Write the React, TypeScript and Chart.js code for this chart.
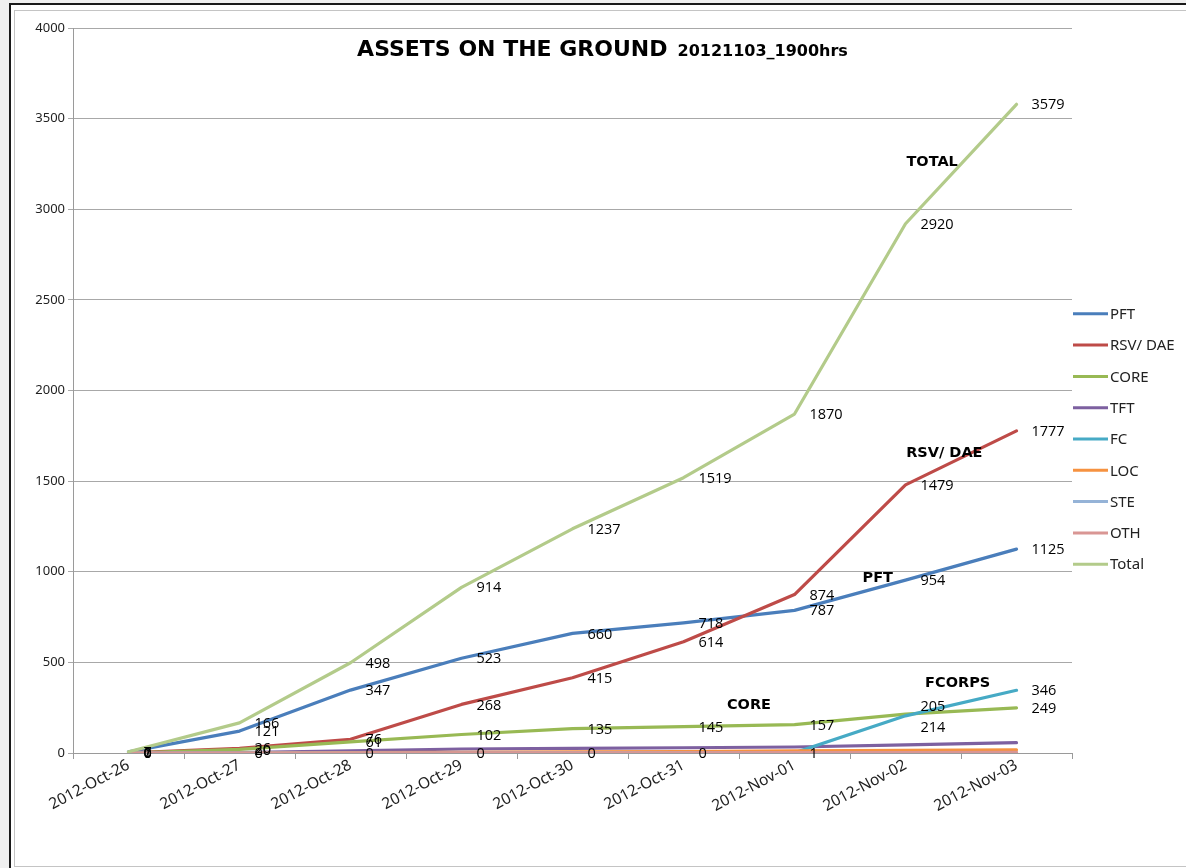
import React, { useEffect, useRef } from 'react';
import { Chart, registerables } from 'chart.js';

Chart.register(...registerables);

// ---- data ----
const categories = [
  '2012-Oct-26', '2012-Oct-27', '2012-Oct-28', '2012-Oct-29', '2012-Oct-30',
  '2012-Oct-31', '2012-Nov-01', '2012-Nov-02', '2012-Nov-03',
];
const pft = [6, 121, 347, 523, 660, 718, 787, 954, 1125];
const rsvDae = [1, 26, 76, 268, 415, 614, 874, 1479, 1777];
const core = [0, 20, 61, 102, 135, 145, 157, 214, 249];
const tft = [0, 2, 12, 22, 26, 29, 33, 45, 57];
const fc = [0, 0, 0, 0, 0, 0, 1, 205, 346];
const loc = [0, 0, 2, 4, 6, 8, 12, 15, 18];
const ste = [0, 0, 0, 0, 1, 1, 1, 2, 2];
const oth = [0, 0, 0, 1, 1, 1, 2, 2, 3];
const total = [7, 166, 498, 914, 1237, 1519, 1870, 2920, 3579];

const seriesNames = ['PFT', 'RSV/ DAE', 'CORE', 'TFT', 'FC', 'LOC', 'STE', 'OTH', 'Total'];
const seriesValues = [pft, rsvDae, core, tft, fc, loc, ste, oth, total];
const seriesColors = ['#4A7EBB', '#BE4B48', '#98B954', '#7D60A0', '#46AAC5', '#F69240', '#95B3D7', '#D99694', '#B3CB8A'];
const labelledSeries = ['PFT', 'RSV/ DAE', 'CORE', 'FC', 'Total'];

const yMin = 0;
const yMax = 4000;
const yStep = 500;

const titleMain = 'ASSETS ON THE GROUND';
const titleSub = '20121103_1900hrs';

// annotation texts, anchored in data units (category index, value)
const annotationTexts = ['TOTAL', 'RSV/ DAE', 'PFT', 'CORE', 'FCORPS'];
const annotationCat = [7.24, 7.35, 6.75, 5.59, 7.47];
const annotationVal = [3261, 1655, 966, 265, 386];

// label nudges for the two overlapping labels at 2012-Nov-02 (series, index, dy px)
const nudgeSeries = ['FC', 'CORE'];
const nudgeIndex = [7, 7];
const nudgeDy = [-10, 13];

const FONT_LABEL = '"Open Sans", "DejaVu Sans", sans-serif';
const FONT_TICK = '"Noto Sans", "DejaVu Sans", sans-serif';
const FONT_TITLE = '"DejaVu Sans", sans-serif';

const dataLabelPlugin = {
  id: 'dataLabels',
  afterDatasetsDraw(chart: any) {
    const ctx = chart.ctx;
    ctx.save();
    ctx.font = `14.5px ${FONT_LABEL}`;
    ctx.fillStyle = '#000';
    ctx.textAlign = 'left';
    ctx.textBaseline = 'middle';
    chart.data.datasets.forEach((ds: any, i: number) => {
      if (!labelledSeries.includes(ds.label)) return;
      const meta = chart.getDatasetMeta(i);
      meta.data.forEach((pt: any, j: number) => {
        let dy = 1;
        nudgeSeries.forEach((s, k) => {
          if (s === ds.label && nudgeIndex[k] === j) dy += nudgeDy[k];
        });
        ctx.fillText(String(ds.data[j]), pt.x + 15, pt.y + dy);
      });
    });
    ctx.restore();
  },
};

const annotationPlugin = {
  id: 'annotations',
  afterDraw(chart: any) {
    const ctx = chart.ctx;
    const xs = chart.scales.x;
    const ys = chart.scales.y;
    ctx.save();
    ctx.font = `bold 14.5px ${FONT_TITLE}`;
    ctx.fillStyle = '#000';
    ctx.textAlign = 'center';
    ctx.textBaseline = 'middle';
    annotationTexts.forEach((t, i) => {
      ctx.fillText(t, xs.getPixelForValue(annotationCat[i]), ys.getPixelForValue(annotationVal[i]));
    });
    // title
    ctx.textAlign = 'left';
    ctx.textBaseline = 'alphabetic';
    ctx.font = `bold 22px ${FONT_TITLE}`;
    const w1 = ctx.measureText(titleMain).width;
    ctx.font = `bold 16px ${FONT_TITLE}`;
    const w2 = ctx.measureText(titleSub).width;
    const gap = 10;
    const cx = (chart.chartArea.left + chart.chartArea.right) / 2 + 30;
    const x0 = cx - (w1 + gap + w2) / 2;
    const base = chart.chartArea.top + 28;
    ctx.font = `bold 22px ${FONT_TITLE}`;
    ctx.fillText(titleMain, x0, base);
    ctx.font = `bold 16px ${FONT_TITLE}`;
    ctx.fillText(titleSub, x0 + w1 + gap, base);
    ctx.restore();
  },
};

const legendPlugin = {
  id: 'sideLegend',
  afterDraw(chart: any) {
    const ctx = chart.ctx;
    const left = chart.chartArea.right + 1;
    const spacing = 31.3;
    const n = chart.data.datasets.length;
    const centerY = (chart.chartArea.top + chart.chartArea.bottom) / 2 + 48.5;
    const top = centerY - ((n - 1) * spacing) / 2;
    ctx.save();
    ctx.font = `15px ${FONT_TICK}`;
    ctx.textAlign = 'left';
    ctx.textBaseline = 'middle';
    chart.data.datasets.forEach((ds: any, i: number) => {
      const y = top + i * spacing;
      ctx.strokeStyle = ds.borderColor;
      ctx.lineWidth = 3;
      ctx.lineCap = 'butt';
      ctx.beginPath();
      ctx.moveTo(left, y);
      ctx.lineTo(left + 35, y);
      ctx.stroke();
      ctx.fillStyle = '#222';
      ctx.fillText(ds.label, left + 37, y + 1);
    });
    ctx.restore();
  },
};

export default function App() {
  const ref = useRef<HTMLCanvasElement | null>(null);

  useEffect(() => {
    if (!ref.current) return;
    const n = seriesNames.length;
    const chart = new Chart(ref.current, {
      type: 'line',
      data: {
        labels: categories,
        datasets: seriesNames.map((name, i) => ({
          label: name,
          data: seriesValues[i],
          borderColor: seriesColors[i],
          backgroundColor: seriesColors[i],
          borderWidth: 3.2,
          pointRadius: 0,
          pointHoverRadius: 0,
          tension: 0,
          fill: false,
          borderJoinStyle: 'round' as const,
          borderCapStyle: 'round' as const,
          order: n - 1 - i,
        })),
      },
      options: {
        responsive: false,
        animation: false,
        events: [],
        layout: { padding: { top: 28, left: 0, right: 114, bottom: 0 } },
        plugins: {
          legend: { display: false },
          title: { display: false },
          tooltip: { enabled: false },
        },
        scales: {
          x: {
            offset: true,
            grid: {
              display: true,
              offset: true,
              drawOnChartArea: false,
              drawTicks: true,
              tickLength: 6,
              color: '#9a9a9a',
            },
            border: { display: true, color: '#9a9a9a', width: 1 },
            ticks: {
              autoSkip: false,
              minRotation: 28,
              maxRotation: 28,
              padding: -3,
              color: '#222',
              font: { family: FONT_TICK, size: 15.5 },
            },
            afterFit: (s: any) => { s.height = 115; },
          },
          y: {
            min: yMin,
            max: yMax,
            ticks: {
              stepSize: yStep,
              padding: 3,
              color: '#222',
              font: { family: FONT_TICK, size: 13 },
              callback: (v: any) => String(v),
            },
            grid: {
              color: '#a8a8a8',
              tickLength: 5,
              lineWidth: 1,
            },
            border: { display: true, color: '#9a9a9a', width: 1 },
            afterFit: (s: any) => { s.width = 73; },
          },
        },
      },
      plugins: [dataLabelPlugin, annotationPlugin, legendPlugin],
    });
    return () => chart.destroy();
  }, []);

  return (
    <div style={{ position: 'fixed', left: 0, top: 0, width: 1186, height: 868, background: '#f0f0f0', overflow: 'hidden' }}>
      <div style={{ position: 'absolute', left: 9, top: 3, width: 1200, height: 870, background: '#fff', borderTop: '2px solid #1a1a1a', borderLeft: '2px solid #1a1a1a' }} />
      <div style={{ position: 'absolute', left: 14, top: 10, width: 1200, height: 855, border: '1px solid #c4c4c4', borderRight: 'none' }} />
      <canvas ref={ref} width={1186} height={868} style={{ position: 'absolute', left: 0, top: 0, display: 'block' }} />
    </div>
  );
}
